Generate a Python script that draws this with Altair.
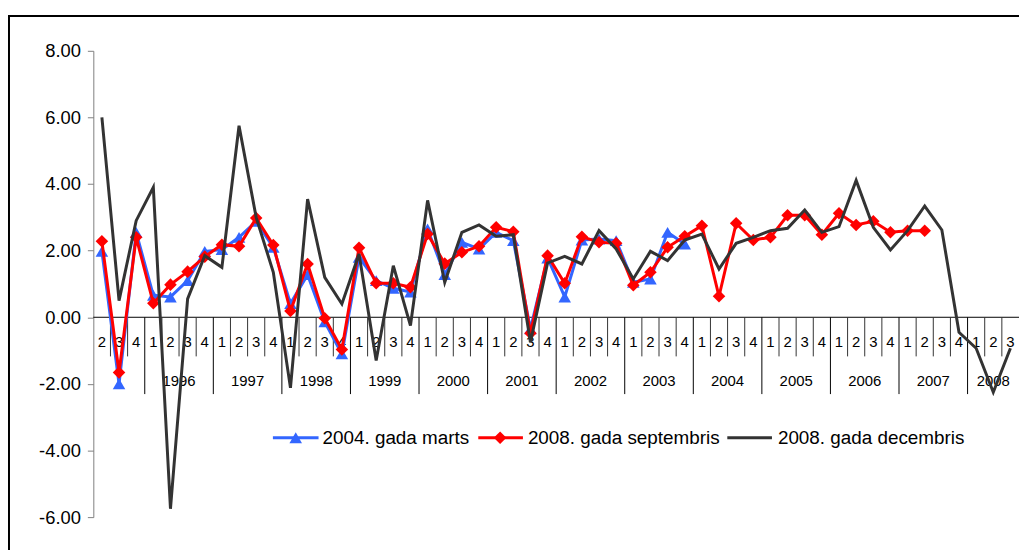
import altair as alt
import pandas as pd

# ---------------- data ----------------
quarter_labels = ["2", "3", "4"] + ["1", "2", "3", "4"] * 12 + ["1", "2", "3"]
year_of_cat = (["1995"] * 3
               + [str(y) for y in range(1996, 2008) for _ in range(4)]
               + ["2008"] * 3)
shown_years = [str(y) for y in range(1996, 2009)]

series_names = ["2004. gada marts", "2008. gada septembris", "2008. gada decembris"]

marts_2004 = [1.98, -2.0, 2.55, 0.66, 0.61, 1.1, 1.98, 2.03, 2.4, 2.88, 2.1,
              0.41, 1.28, -0.14, -1.1, 1.8, 1.1, 0.87, 0.76, 2.65, 1.28, 2.25,
              2.05, 2.55, 2.3, -0.35, 1.78, 0.61, 2.32, 2.35, 2.3, 1.05, 1.15,
              2.55, 2.2]
sept_2008 = [2.28, -1.66, 2.4, 0.42, 0.98, 1.37, 1.82, 2.18, 2.13, 2.98, 2.17,
             0.19, 1.6, -0.03, -0.97, 2.09, 1.02, 1.02, 0.9, 2.5, 1.61, 1.95,
             2.13, 2.7, 2.57, -0.48, 1.85, 1.02, 2.42, 2.25, 2.22, 0.96, 1.35,
             2.1, 2.43, 2.75, 0.63, 2.82, 2.32, 2.4, 3.06, 3.06, 2.48, 3.12,
             2.77, 2.88, 2.55, 2.6, 2.6]
dec_2008 = [6.0, 0.5, 2.9, 3.9, -5.75, 0.55, 1.85, 1.5, 5.75, 3.0, 1.35,
            -2.12, 3.55, 1.2, 0.4, 1.9, -1.3, 1.55, -0.25, 3.51, 1.05, 2.55,
            2.77, 2.43, 2.48, -0.75, 1.63, 1.83, 1.6, 2.6, 2.05, 1.15, 1.98,
            1.7, 2.32, 2.5, 1.45, 2.22, 2.4, 2.6, 2.67, 3.22, 2.55, 2.72,
            4.11, 2.7, 2.02, 2.6, 3.34, 2.62, -0.45, -0.93, -2.25, -0.93]

y_ticks = [-6, -4, -2, 0, 2, 4, 6, 8]

colors = ["#3366FF", "#FF0000", "#333333"]
shapes = ["triangle-up", "diamond", ""]

FONT = "Liberation Sans"
n = len(quarter_labels)

xscale = alt.Scale(domain=[-0.5, n - 0.5], nice=False, zero=False)
yscale = alt.Scale(domain=[-6, 8], nice=False, zero=False)
yaxis = alt.Axis(values=y_ticks, format=".2f", grid=False, title="",
                 labelExpr="replace(datum.label, '\u2212', '-')",
                 domainColor="#808080", tickColor="#808080",
                 tickSize=6, labelFontSize=18.5, labelColor="black",
                 labelFont=FONT, labelPadding=7)

# ---------------- frame ----------------
frame = alt.Chart(pd.DataFrame({"a": [0]})).mark_rect(
    filled=False, stroke="black", strokeWidth=2
).encode(x=alt.value(-85), x2=alt.value(950), y=alt.value(-35), y2=alt.value(530))

# ---------------- axes ----------------
zero_line = alt.Chart(pd.DataFrame({"v": [0]})).mark_rule(
    color="black", strokeWidth=1
).encode(
    y=alt.Y("v:Q", scale=yscale, axis=yaxis),
    x=alt.value(0), x2=alt.value(933),
)

bounds = []
for i in range(1, n):
    kind = "long" if year_of_cat[i] != year_of_cat[i - 1] else "short"
    bounds.append({"b": i - 0.5, "kind": kind})
bdf = pd.DataFrame(bounds)

short_sep = alt.Chart(bdf[bdf.kind == "short"]).mark_rule(color="#333333", strokeWidth=1).encode(
    x=alt.X("b:Q", scale=xscale, axis=None),
    y=alt.Y(datum=0, scale=yscale, axis=yaxis), y2=alt.value(308))
long_sep = alt.Chart(bdf[bdf.kind == "long"]).mark_rule(color="black", strokeWidth=1).encode(
    x=alt.X("b:Q", scale=xscale, axis=None),
    y=alt.Y(datum=0, scale=yscale, axis=yaxis), y2=alt.value(346))

qdf = pd.DataFrame({"idx": list(range(n)), "q": quarter_labels})
q_text = alt.Chart(qdf).mark_text(font=FONT, fontSize=15, color="black", baseline="middle").encode(
    x=alt.X("idx:Q", scale=xscale, axis=None), y=alt.value(294), text="q:N")

ydf_rows = []
for yr in shown_years:
    idxs = [i for i, y in enumerate(year_of_cat) if y == yr]
    ydf_rows.append({"c": sum(idxs) / len(idxs), "yr": yr})
ydf = pd.DataFrame(ydf_rows)
y_text = alt.Chart(ydf).mark_text(font=FONT, fontSize=15, color="black", baseline="middle").encode(
    x=alt.X("c:Q", scale=xscale, axis=None), y=alt.value(333), text="yr:N")

# ---------------- series ----------------
layers = []
for vals, col, shp in zip([marts_2004, sept_2008, dec_2008], colors, shapes):
    df = pd.DataFrame({"idx": list(range(len(vals))), "v": vals})
    base = alt.Chart(df).encode(
        x=alt.X("idx:Q", scale=xscale, axis=None),
        y=alt.Y("v:Q", scale=yscale, axis=yaxis))
    layers.append(base.mark_line(color=col, strokeWidth=3))
    if shp:
        layers.append(base.mark_point(shape=shp, filled=True, size=160, color=col, opacity=1))

# ---------------- legend ----------------
one = pd.DataFrame({"a": [0]})
leg_layers = []
leg_geom = [(181, 227, 204, 231), (388, 433, 410, 438), (639, 684, None, 690)]
for name, col, shp, (x1, x2, xm, xt) in zip(series_names, colors, shapes, leg_geom):
    leg_layers.append(alt.Chart(one).mark_rule(color=col, strokeWidth=3).encode(
        x=alt.value(x1), x2=alt.value(x2), y=alt.value(390)))
    if shp:
        leg_layers.append(alt.Chart(one).mark_point(shape=shp, filled=True, size=160,
                                                     color=col, opacity=1).encode(
            x=alt.value(xm), y=alt.value(390)))
    leg_layers.append(alt.Chart(one).mark_text(font=FONT, fontSize=19, color="black",
                                               align="left", baseline="middle").encode(
        x=alt.value(xt), y=alt.value(390), text=alt.value(name)))

chart = alt.layer(
    frame, zero_line, short_sep, long_sep, q_text, y_text, *layers, *leg_layers
).properties(
    width=933, height=470,
    autosize=alt.AutoSizeParams(type="none"),
    padding={"left": 86, "top": 41, "right": 0, "bottom": 31},
    background="white",
).configure_view(strokeWidth=0)

chart.save("out.html", embed_options={"renderer": "svg", "actions": False})
